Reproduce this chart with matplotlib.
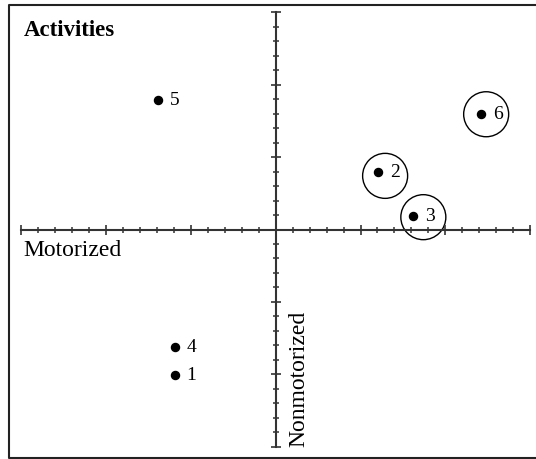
import matplotlib
matplotlib.use("Agg")
from matplotlib import pyplot as plt
from matplotlib.lines import Line2D
from matplotlib.ticker import FixedLocator
import numpy as np

# activity positions on the two axes
labels = ["1", "2", "3", "4", "5", "6"]
x_vals = [-1.19, 1.21, 1.62, -1.19, -1.39, 2.42]
y_vals = [-2.01, 0.79, 0.19, -1.62, 1.79, 1.59]

# circled groups (centre of each ring)
ring_x = [1.29, 1.74, 2.48]
ring_y = [0.74, 0.17, 1.59]

plt.rcParams["font.family"] = ["Liberation Serif", "DejaVu Serif"]

fig = plt.figure(figsize=(5.36, 4.59), dpi=100)
ax = fig.add_axes([0, 0, 1, 1])
ax.set_xlim(-3.246, 3.067)
ax.set_ylim(-3.166, 3.166)
ax.patch.set_visible(False)

axcol = "#333333"
for side in ["top", "right"]:
    ax.spines[side].set_visible(False)
ax.spines["left"].set_position(("data", 0))
ax.spines["bottom"].set_position(("data", 0))
ax.spines["left"].set_bounds(-3, 3)
ax.spines["bottom"].set_bounds(-3, 3)
for side in ["left", "bottom"]:
    ax.spines[side].set_color(axcol)
    ax.spines[side].set_linewidth(1.5)

major = np.arange(-3, 4)
minor = np.round(np.arange(-3, 3.01, 0.2), 2)
for axis in [ax.xaxis, ax.yaxis]:
    axis.set_major_locator(FixedLocator(major))
    axis.set_minor_locator(FixedLocator(minor))
ax.tick_params(which="major", direction="inout", length=7.5, width=1.2, color=axcol,
               labelbottom=False, labelleft=False)
ax.tick_params(which="minor", direction="inout", length=5, width=1.1, color=axcol)

ax.plot(x_vals, y_vals, "o", color="black", markersize=5.8, linestyle="none")
ax.scatter(ring_x, ring_y, s=1050, facecolors="none", edgecolors="black", linewidths=1.0)

for lab, x, y in zip(labels, x_vals, y_vals):
    ax.annotate(lab, xy=(x, y), xytext=(8.5, -0.5), textcoords="offset points",
                ha="left", va="center", fontsize=14)

ax.annotate("Motorized", xy=(-3, 0), xytext=(1.5, -19), textcoords="offset points",
            ha="left", va="baseline", fontsize=17)
ax.annotate("Nonmotorized", xy=(0, -3), xytext=(20.6, 0), textcoords="offset points",
            rotation=90, rotation_mode="anchor", ha="left", va="baseline", fontsize=17)

fig.text(24 / 536, 1 - 36.5 / 459, "Activities", fontsize=16.5, fontweight="bold",
         ha="left", va="baseline")

# outer frame, open on the right where it runs off the picture
left = 8.5 / 536
top = 1 - 4.7 / 459
bottom = 1.5 / 459
right = 535.6 / 536
frame = Line2D([right, left, left, right], [top, top, bottom, bottom],
               transform=fig.transFigure, color="#222222", linewidth=1.5,
               solid_capstyle="butt")
fig.add_artist(frame)

fig.savefig("out.png", dpi=100)
